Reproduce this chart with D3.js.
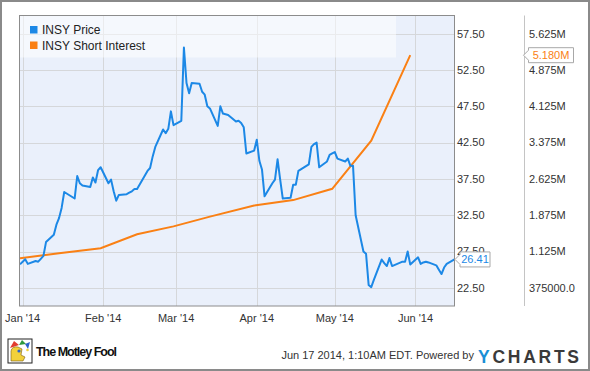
<!DOCTYPE html>
<html>
<head>
<meta charset="utf-8">
<script src="https://cdn.jsdelivr.net/npm/d3@7"></script>
<style>
  body { margin: 0; background: #fff; }
  svg { display: block; font-family: "Liberation Sans", Arial, sans-serif; }
</style>
</head>
<body>
<div id="chart"></div>
<script>
// INSY daily close
var priceDates = [
  "2013-12-31",
  "2014-01-02","2014-01-03","2014-01-06","2014-01-07","2014-01-08","2014-01-09","2014-01-10",
  "2014-01-13","2014-01-14","2014-01-15","2014-01-16","2014-01-17","2014-01-21","2014-01-22",
  "2014-01-23","2014-01-24","2014-01-27","2014-01-28","2014-01-29","2014-01-30","2014-01-31",
  "2014-02-03","2014-02-04","2014-02-05","2014-02-06","2014-02-07","2014-02-10","2014-02-11",
  "2014-02-12","2014-02-13","2014-02-14","2014-02-18","2014-02-19","2014-02-20","2014-02-21",
  "2014-02-24","2014-02-25","2014-02-26","2014-02-27","2014-02-28",
  "2014-03-03","2014-03-04","2014-03-05","2014-03-06","2014-03-07","2014-03-10","2014-03-11",
  "2014-03-12","2014-03-13","2014-03-14","2014-03-17","2014-03-18","2014-03-19","2014-03-20",
  "2014-03-21","2014-03-24","2014-03-25","2014-03-26","2014-03-27","2014-03-28","2014-03-31",
  "2014-04-01","2014-04-02","2014-04-03","2014-04-04","2014-04-07","2014-04-08","2014-04-09",
  "2014-04-10","2014-04-11","2014-04-14","2014-04-15","2014-04-16","2014-04-17","2014-04-21",
  "2014-04-22","2014-04-23","2014-04-24","2014-04-25","2014-04-28","2014-04-29","2014-04-30",
  "2014-05-01","2014-05-02","2014-05-05","2014-05-06","2014-05-07","2014-05-08","2014-05-09",
  "2014-05-12","2014-05-13","2014-05-14","2014-05-15","2014-05-16","2014-05-19","2014-05-20",
  "2014-05-21","2014-05-22","2014-05-23","2014-05-27","2014-05-28","2014-05-29","2014-05-30",
  "2014-06-02","2014-06-03","2014-06-04","2014-06-05","2014-06-06","2014-06-09","2014-06-10",
  "2014-06-11","2014-06-12","2014-06-13","2014-06-16"
];
var priceValues = [
  25.74,
  26.43, 25.8, 26.2, 26.1, 26.5, 26.9, 28.8,
  29.8, 31.2, 32.1, 33.5, 35.7, 34.8, 37.9,
  36.9, 36.6, 36.4, 37.7, 37.0, 38.7, 39.1,
  36.9, 37.4, 35.8, 34.5, 35.3, 35.4, 35.6,
  35.8, 36.1, 36.1, 38.6, 39.0, 40.6, 41.9,
  44.3, 43.8, 44.4, 46.8, 44.9,
  45.5, 55.6, 50.7, 49.3, 50.7, 50.6, 49.5,
  49.1, 47.5, 47.2, 44.8, 47.5, 46.5, 46.4,
  46.3, 45.4, 45.5, 45.2, 44.6, 41.0, 41.4,
  42.9, 40.0, 38.8, 35.1, 36.9, 37.4, 40.2,
  37.4, 34.8, 34.9, 36.7, 36.7, 38.6, 39.5,
  41.9, 42.3, 42.5, 39.1, 39.9, 40.8, 41.0,
  41.2, 40.3, 39.9, 40.3, 39.3, 39.3, 32.5,
  27.5, 27.2, 22.9, 22.6, 23.6, 26.4, 25.9,
  25.5, 26.6, 25.5, 26.1, 26.1, 27.5, 25.7,
  26.7, 25.8, 26.0, 26.1, 26.0, 25.6, 25.0,
  24.4, 25.3, 25.8, 26.41
];

// short interest, settlement dates
var siDates = ["2013-12-31","2014-01-15","2014-01-31","2014-02-14","2014-02-28","2014-03-14",
               "2014-03-31","2014-04-15","2014-04-30","2014-05-15","2014-05-30"];
var siValues = [986000, 1090000, 1192000, 1481000, 1645000, 1846000,
                2077000, 2187000, 2420000, 3415000, 5180000];

// axis ticks
var priceTicks = [22.5, 27.5, 32.5, 37.5, 42.5, 47.5, 52.5, 57.5];
var siTicks = [375000, 1125000, 1875000, 2625000, 3375000, 4125000, 4875000, 5625000];
var seriesNames = ["INSY Price", "INSY Short Interest"];

var width = 590, height = 371;
var plotL = 20, plotR = 454.5, plotT = 15.5, plotB = 306;
var blue = "#1c88e6", orange = "#fa8014";

var parse = d3.timeParse("%Y-%m-%d");
var price = priceDates.map(function (d, i) { return { date: parse(d), value: priceValues[i] }; });
var si = siDates.map(function (d, i) { return { date: parse(d), value: siValues[i] }; });

var svg = d3.select("#chart").append("svg")
    .attr("width", width)
    .attr("height", height);

var x = d3.scaleTime()
    .domain([parse("2013-12-31"), parse("2014-06-16")])
    .range([plotL, plotR]);
var yPrice = d3.scaleLinear().domain([20, 60]).range([plotB, plotT]);
var ySI = d3.scaleLinear().domain([0, 6000000]).range([plotB, plotT]);

// outer frame
svg.append("rect")
    .attr("x", 1).attr("y", 1)
    .attr("width", width - 2).attr("height", height - 2)
    .style("fill", "#fff")
    .style("stroke", "#8a8a8a")
    .style("stroke-width", 2);

// plot background
svg.append("rect")
    .attr("x", plotL).attr("y", plotT)
    .attr("width", plotR - plotL).attr("height", plotB - plotT)
    .style("fill", "#eaf0fb");

// gridlines
svg.selectAll("line.hgrid")
    .data(priceTicks)
    .enter().append("line")
    .attr("class", "hgrid")
    .attr("x1", plotL).attr("x2", plotR)
    .attr("y1", function (d) { return Math.round(yPrice(d)) + 0.5; })
    .attr("y2", function (d) { return Math.round(yPrice(d)) + 0.5; })
    .style("stroke", "#d5d7da");

var months = x.ticks(d3.timeMonth.every(1));
svg.selectAll("line.vgrid")
    .data(months)
    .enter().append("line")
    .attr("class", "vgrid")
    .attr("x1", function (d) { return Math.round(x(d)) + 0.5; })
    .attr("x2", function (d) { return Math.round(x(d)) + 0.5; })
    .attr("y1", plotT).attr("y2", plotB)
    .style("stroke", "#d5d7da");

// legend box (whitish over the plot)
svg.append("rect")
    .attr("x", plotL).attr("y", plotT)
    .attr("width", 376).attr("height", 42)
    .style("fill", "#fff")
    .style("opacity", 0.5);

var legend = svg.selectAll("g.legend")
    .data(seriesNames)
    .enter().append("g")
    .attr("class", "legend")
    .attr("transform", function (d, i) { return "translate(30," + (26 + i * 15.5) + ")"; });
legend.append("rect")
    .attr("width", 7.5).attr("height", 7.5)
    .style("fill", function (d, i) { return i === 0 ? blue : orange; });
legend.append("text")
    .attr("x", 12).attr("y", 4)
    .attr("dy", "0.35em")
    .style("font-size", "12px")
    .style("fill", "#222")
    .text(function (d) { return d; });

// lines
svg.append("clipPath").attr("id", "clip")
    .append("rect")
    .attr("x", plotL).attr("y", plotT)
    .attr("width", plotR - plotL).attr("height", plotB - plotT);

svg.append("path")
    .datum(si)
    .attr("clip-path", "url(#clip)")
    .attr("d", d3.line().x(function (d) { return x(d.date); }).y(function (d) { return ySI(d.value); }))
    .style("fill", "none")
    .style("stroke", orange)
    .style("stroke-width", 2);

svg.append("path")
    .datum(price)
    .attr("clip-path", "url(#clip)")
    .attr("d", d3.line().x(function (d) { return x(d.date); }).y(function (d) { return yPrice(d.value); }))
    .style("fill", "none")
    .style("stroke", blue)
    .style("stroke-width", 2)
    .style("stroke-linejoin", "round");

// plot border
svg.append("rect")
    .attr("x", plotL - 0.5).attr("y", plotT)
    .attr("width", plotR - plotL + 0.5).attr("height", plotB - plotT)
    .style("fill", "none")
    .style("stroke", "#8c8c8c");

// separator between the two right axes
svg.append("line")
    .attr("x1", 524.5).attr("x2", 524.5)
    .attr("y1", plotT).attr("y2", plotB)
    .style("stroke", "#c4c4c4");

// x axis labels
svg.selectAll("text.xlab")
    .data(months)
    .enter().append("text")
    .attr("class", "xlab")
    .attr("x", function (d) { return x(d); })
    .attr("y", 322)
    .style("text-anchor", "middle")
    .style("font-size", "11px")
    .style("fill", "#333")
    .text(d3.timeFormat("%b '%y"));

// price axis labels
svg.selectAll("text.plab")
    .data(priceTicks)
    .enter().append("text")
    .attr("class", "plab")
    .attr("x", 457)
    .attr("y", function (d) { return yPrice(d); })
    .attr("dy", "0.35em")
    .style("font-size", "11px")
    .style("fill", "#333")
    .text(d3.format(".2f"));

// short interest axis labels
svg.selectAll("text.slab")
    .data(siTicks)
    .enter().append("text")
    .attr("class", "slab")
    .attr("x", 529)
    .attr("y", function (d) { return ySI(d); })
    .attr("dy", "0.35em")
    .style("font-size", "11px")
    .style("fill", "#333")
    .text(function (d) { return d < 1000000 ? d.toFixed(1) : (d / 1000000).toFixed(3) + "M"; });

// last value flags
function flag(tipX, tipY, w, txt, color) {
    var bx = tipX + 5;
    var g = svg.append("g");
    g.append("path")
        .attr("d", "M" + tipX + "," + tipY +
                   "L" + bx + "," + (tipY - 5) +
                   "L" + bx + "," + (tipY - 7.5) +
                   "L" + (bx + w) + "," + (tipY - 7.5) +
                   "L" + (bx + w) + "," + (tipY + 7.5) +
                   "L" + bx + "," + (tipY + 7.5) +
                   "L" + bx + "," + (tipY + 5) + "Z")
        .style("fill", "#fff")
        .style("stroke", "#a8a8a8");
    g.append("text")
        .attr("x", bx + w / 2).attr("y", tipY)
        .attr("dy", "0.36em")
        .style("text-anchor", "middle")
        .style("font-size", "11px")
        .style("fill", color)
        .text(txt);
}
var lastP = price[price.length - 1], lastS = si[si.length - 1];
flag(455, yPrice(lastP.value), 30, lastP.value.toFixed(2), blue);
flag(523.5, ySI(lastS.value), 45, (lastS.value / 1000000).toFixed(3) + "M", orange);

// footer: Motley Fool logo
var logo = svg.append("g").attr("transform", "translate(8,339)");
logo.append("rect").attr("width", 24).attr("height", 24)
    .style("fill", "#fff").style("stroke", "#222").style("stroke-width", 1);
logo.append("path").attr("d", "M3,22 L3,12 Q4,7 10,8 L14,10 L13,16 L17,18 L15,22 Z")
    .style("fill", "#f2d13a").style("stroke", "#7a5a10").style("stroke-width", 0.6);
logo.append("path").attr("d", "M2,9 L6,2 L11,6 Z").style("fill", "#e23b2e");
logo.append("path").attr("d", "M11,6 L14,1 L18,5 Z").style("fill", "#2e9a3f");
logo.append("path").attr("d", "M17,5 L22,3 L20,10 Z").style("fill", "#2c62c9");
logo.append("circle").attr("cx", 11).attr("cy", 12).attr("r", 1.6).style("fill", "#2c62c9");
logo.append("circle").attr("cx", 19.5).attr("cy", 11).attr("r", 1.3).style("fill", "#f2d13a");

svg.append("text")
    .attr("x", 36).attr("y", 356)
    .attr("textLength", 81)
    .style("font-size", "12.5px")
    .style("font-weight", "bold")
    .style("fill", "#111")
    .text("The Motley Fool");

// footer: timestamp and ycharts
svg.append("text")
    .attr("x", 474).attr("y", 359)
    .style("text-anchor", "end")
    .style("font-size", "11px")
    .style("fill", "#333")
    .text("Jun 17 2014, 1:10AM EDT.  Powered by");

var yc = svg.append("text")
    .attr("x", 478).attr("y", 362.5)
    .attr("textLength", 101)
    .style("font-size", "17.5px")
    .style("font-weight", "bold");
yc.append("tspan").style("fill", "#1a8fd6").text("Y");
yc.append("tspan").style("fill", "#3a3a3a").text("CHARTS");
</script>
</body>
</html>
